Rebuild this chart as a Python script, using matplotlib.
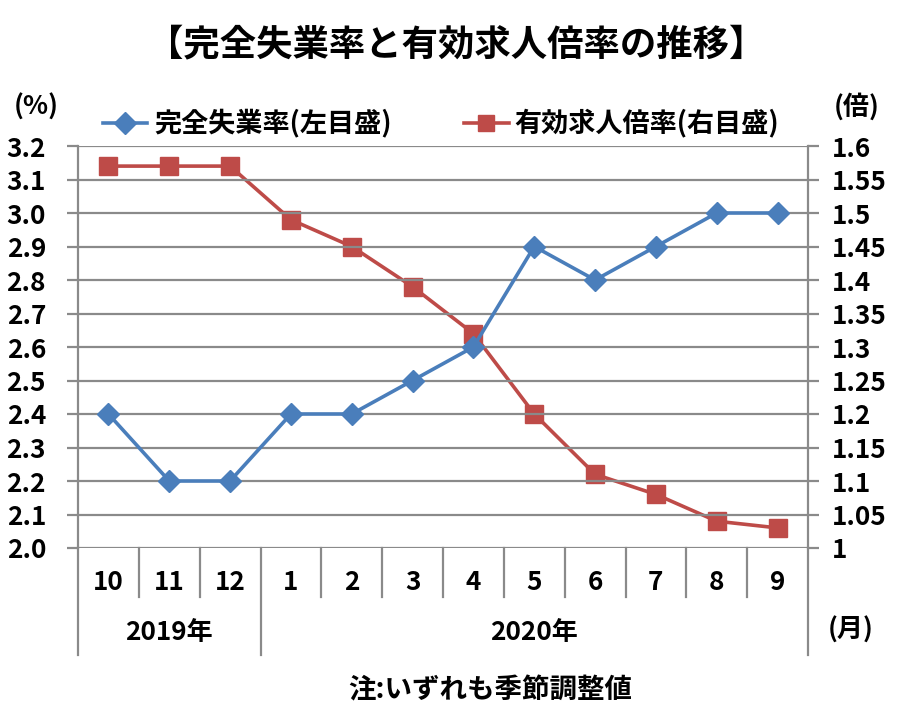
import matplotlib
matplotlib.use("Agg")
import matplotlib.pyplot as plt
from matplotlib.lines import Line2D
import matplotlib.transforms as mtransforms

plt.rcParams['font.family'] = ['Noto Sans CJK JP', 'DejaVu Sans']

months = ["10", "11", "12", "1", "2", "3", "4", "5", "6", "7", "8", "9"]
years = ["2019年", "2020年"]
unemployment = [2.4, 2.2, 2.2, 2.4, 2.4, 2.5, 2.6, 2.9, 2.8, 2.9, 3.0, 3.0]
jobs_ratio = [1.57, 1.57, 1.57, 1.49, 1.45, 1.39, 1.32, 1.20, 1.11, 1.08, 1.04, 1.03]
left_ticks = [2.0, 2.1, 2.2, 2.3, 2.4, 2.5, 2.6, 2.7, 2.8, 2.9, 3.0, 3.1, 3.2]
right_ticks = [1.0, 1.05, 1.1, 1.15, 1.2, 1.25, 1.3, 1.35, 1.4, 1.45, 1.5, 1.55, 1.6]
right_labels = ["1", "1.05", "1.1", "1.15", "1.2", "1.25", "1.3", "1.35", "1.4", "1.45", "1.5", "1.55", "1.6"]

BLUE = "#4A7EBB"
RED = "#BE4B48"
GRID = "#8a8a8a"
FS = 18.8

W, H = 914, 709
fig = plt.figure(figsize=(W / 100, H / 100), dpi=100)
L, R, T, B = 78, 808, 146, 548
ax = fig.add_axes([L / W, 1 - B / H, (R - L) / W, (B - T) / H])
ax2 = ax.twinx()

x = list(range(len(months)))
ax.set_xlim(-0.5, len(months) - 0.5)
ax.set_ylim(2.0, 3.2)
ax2.set_ylim(1.0, 1.6)

ax.set_yticks(left_ticks)
ax.set_yticklabels([f"{v:.1f}" for v in left_ticks], fontsize=FS, fontweight='bold')
ax2.set_yticks(right_ticks)
ax2.set_yticklabels(right_labels, fontsize=FS, fontweight='bold')
ax.grid(axis='y', color=GRID, linewidth=1.6)
ax.set_axisbelow(True)
ax.tick_params(axis='y', length=8, width=1.6, color=GRID, pad=15)
ax2.tick_params(axis='y', length=8, width=1.6, color=GRID, pad=9)
ax.set_xticks([])
ax2.set_xticks([])
for a in (ax, ax2):
    for s in ('top', 'bottom'):
        a.spines[s].set_visible(False)
    a.spines['left'].set_color(GRID)
    a.spines['right'].set_color(GRID)
    a.spines['left'].set_linewidth(1.6)
    a.spines['right'].set_linewidth(1.6)
ax.spines['right'].set_visible(False)
ax2.spines['left'].set_visible(False)

ax2.plot(x, jobs_ratio, color=RED, linewidth=2.6, marker='s', markersize=12.5,
         zorder=3, clip_on=False)
ax.plot(x, unemployment, color=BLUE, linewidth=2.6, marker='D', markersize=11,
        zorder=4, clip_on=False)
ax.set_zorder(ax2.get_zorder() + 1)
ax.patch.set_visible(False)

# category axis below
trans = mtransforms.blended_transform_factory(ax.transData, ax.transAxes)
sep_h = (597 - B) / (B - T)
year_h = (655 - B) / (B - T)
for k in range(len(months) - 1):
    if k == 2:
        continue
    ax.add_line(Line2D([k + 0.5, k + 0.5], [0, -sep_h], transform=trans,
                       color=GRID, linewidth=1.6, clip_on=False))
for xx in (-0.5, 2.5, len(months) - 0.5):
    ax.add_line(Line2D([xx, xx], [0, -year_h], transform=trans,
                       color=GRID, linewidth=1.6, clip_on=False))
month_y = -(582 - B) / (B - T)
year_y = -(632 - B) / (B - T)
for k, m in enumerate(months):
    ax.text(k, month_y, m, transform=trans, ha='center', va='center',
            fontsize=FS, fontweight='bold')
ax.text(1, year_y, years[0], transform=trans, ha='center', va='center',
        fontsize=FS, fontweight='bold')
ax.text(7, year_y, years[1], transform=trans, ha='center', va='center',
        fontsize=FS, fontweight='bold')

# title and annotations
fig.text(456 / W, 1 - 45 / H, "【完全失業率と有効求人倍率の推移】", ha='center', va='center',
         fontsize=26.2, fontweight='bold')
fig.text(36 / W, 1 - 107 / H, "(%)", ha='center', va='center', fontsize=FS, fontweight='bold')
fig.text(857 / W, 1 - 107 / H, "(倍)", ha='center', va='center', fontsize=FS, fontweight='bold')
fig.text(851 / W, 1 - 630 / H, "(月)", ha='center', va='center', fontsize=FS, fontweight='bold')
fig.text(490 / W, 1 - 690 / H, "注:いずれも季節調整値", ha='center', va='center',
         fontsize=19.8, fontweight='bold')

# legend
ly = 1 - 123 / H
fig.add_artist(Line2D([103 / W, 147 / W], [ly, ly], color=BLUE, linewidth=2.6))
fig.add_artist(Line2D([125 / W], [ly], color=BLUE, marker='D', markersize=11, linestyle='none'))
fig.text(154 / W, ly, "完全失業率(左目盛)", ha='left', va='center', fontsize=19.5, fontweight='bold')
fig.add_artist(Line2D([464 / W, 509 / W], [ly, ly], color=RED, linewidth=2.6))
fig.add_artist(Line2D([486 / W], [ly], color=RED, marker='s', markersize=12, linestyle='none'))
fig.text(514 / W, ly, "有効求人倍率(右目盛)", ha='left', va='center', fontsize=19.5, fontweight='bold')

fig.savefig("out.png", dpi=100)
